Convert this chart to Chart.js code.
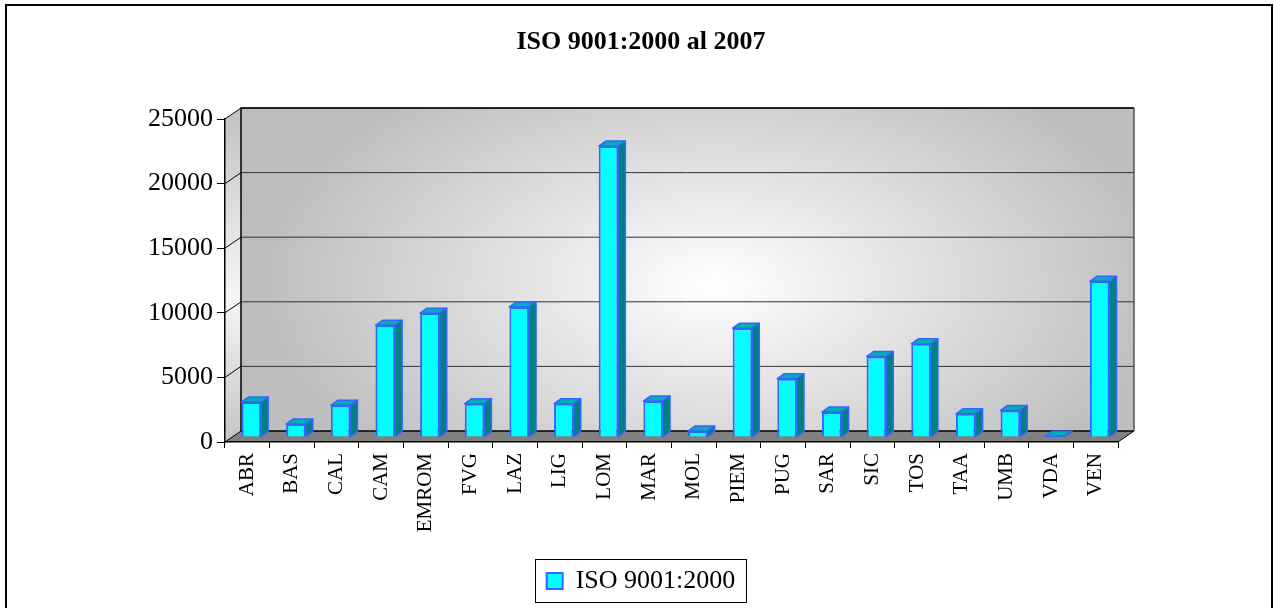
<!DOCTYPE html>
<html>
<head>
<meta charset="utf-8">
<script src="https://cdn.jsdelivr.net/npm/chart.js@4.4.1/dist/chart.umd.min.js"></script>
<style>
  html, body { margin: 0; padding: 0; background: #fff; }
  canvas { display: block; }
</style>
</head>
<body>
<canvas id="isoChart" width="1274" height="608"></canvas>
<script>
const regioni = ['ABR', 'BAS', 'CAL', 'CAM', 'EMROM', 'FVG', 'LAZ', 'LIG', 'LOM', 'MAR',
  'MOL', 'PIEM', 'PUG', 'SAR', 'SIC', 'TOS', 'TAA', 'UMB', 'VDA', 'VEN'];
const certificati = [2700, 1000, 2450, 8650, 9580, 2580, 10070, 2580, 22520, 2780,
  460, 8420, 4510, 1930, 6230, 7210, 1800, 2060, 60, 12050];
const yTicks = [0, 5000, 10000, 15000, 20000, 25000];

// profondita' finta del 3D
const WALL = { dx: 16, dy: -11 };
const BAR_SHIFT = { dx: 4, dy: -5 };
const BAR_DEPTH = { dx: 7, dy: -5 };

const serif = "'Liberation Serif', 'Times New Roman', serif";

function poly(ctx, pts) {
  ctx.beginPath();
  ctx.moveTo(pts[0][0], pts[0][1]);
  for (let i = 1; i < pts.length; i++) ctx.lineTo(pts[i][0], pts[i][1]);
  ctx.closePath();
}

const pareti3d = {
  id: 'pareti3d',
  beforeDraw(chart) {
    const { ctx, chartArea: { left, right, top, bottom }, scales: { y } } = chart;
    const bl = left + WALL.dx, bt = top + WALL.dy, br = right + WALL.dx, bb = bottom + WALL.dy;
    ctx.save();

    // cornice
    ctx.strokeStyle = '#000';
    ctx.lineWidth = 2;
    ctx.strokeRect(6, 5, 1266, 640);

    // parete di fondo
    ctx.save();
    ctx.beginPath();
    ctx.rect(bl, bt, br - bl, bb - bt);
    ctx.clip();
    ctx.translate(715, 285);
    ctx.scale(1.8, 1);
    const g = ctx.createRadialGradient(0, 0, 0, 0, 0, 250);
    g.addColorStop(0, '#ffffff');
    g.addColorStop(1, '#bebebe');
    ctx.fillStyle = g;
    ctx.fillRect(-500, -300, 1000, 600);
    ctx.restore();

    // parete laterale
    const gs = ctx.createLinearGradient(0, top, 0, bottom);
    gs.addColorStop(0, '#c4c4c4');
    gs.addColorStop(0.55, '#f6f6f6');
    gs.addColorStop(1, '#c4c4c4');
    ctx.fillStyle = gs;
    poly(ctx, [[left, top], [bl, bt], [bl, bb], [left, bottom]]);
    ctx.fill();

    // pavimento
    ctx.fillStyle = '#808080';
    poly(ctx, [[left, bottom], [bl, bb], [br, bb], [right, bottom]]);
    ctx.fill();

    // griglia
    yTicks.forEach(v => {
      const yy = y.getPixelForValue(v);
      ctx.strokeStyle = v === 0 ? '#000' : '#333';
      ctx.lineWidth = v === 0 ? 1.5 : 1;
      ctx.beginPath();
      ctx.moveTo(bl, yy + WALL.dy);
      ctx.lineTo(br, yy + WALL.dy);
      ctx.stroke();
      ctx.strokeStyle = '#000';
      ctx.lineWidth = 1;
      ctx.beginPath();
      ctx.moveTo(left, yy);
      ctx.lineTo(bl, yy + WALL.dy);
      ctx.stroke();
    });

    ctx.strokeStyle = '#000';
    ctx.lineWidth = 1.5;
    ctx.beginPath();
    ctx.moveTo(bl, bb);
    ctx.lineTo(bl, bt);
    ctx.lineTo(br, bt);
    ctx.stroke();
    ctx.strokeStyle = '#555';
    ctx.beginPath();
    ctx.moveTo(br, bt);
    ctx.lineTo(br, bb);
    ctx.stroke();
    ctx.strokeStyle = '#000';
    ctx.lineWidth = 1;
    ctx.beginPath();
    ctx.moveTo(right, bottom);
    ctx.lineTo(br, bb);
    ctx.stroke();
    ctx.restore();
  },
  beforeDatasetsDraw(chart) {
    chart.ctx.save();
    chart.ctx.translate(BAR_SHIFT.dx, BAR_SHIFT.dy);
  },
  afterDatasetsDraw(chart) {
    const ctx = chart.ctx;
    const meta = chart.getDatasetMeta(0);
    ctx.lineWidth = 1.5;
    ctx.strokeStyle = '#3366ff';
    ctx.lineJoin = 'round';
    meta.data.forEach(bar => {
      const { x, y, base, width } = bar.getProps(['x', 'y', 'base', 'width'], true);
      const L = x - width / 2, R = x + width / 2;
      const d = BAR_DEPTH;
      // faccia superiore
      ctx.fillStyle = '#00b0b0';
      poly(ctx, [[L, y], [L + d.dx, y + d.dy], [R + d.dx, y + d.dy], [R, y]]);
      ctx.fill();
      ctx.stroke();
      // fianco
      ctx.fillStyle = '#008080';
      poly(ctx, [[R, y], [R + d.dx, y + d.dy], [R + d.dx, base + d.dy], [R, base]]);
      ctx.fill();
      ctx.stroke();
    });
    ctx.restore();
  },
  afterDraw(chart) {
    const { ctx, legend } = chart;
    const hb = legend.legendHitBoxes[0];
    if (!hb) return;
    ctx.save();
    ctx.strokeStyle = '#000';
    ctx.lineWidth = 1;
    ctx.strokeRect(Math.round(hb.left - 12) + 0.5, Math.round(hb.top - 9) + 0.5, Math.round(hb.width + 22), 43);
    ctx.restore();
  }
};

new Chart(document.getElementById('isoChart'), {
  type: 'bar',
  data: {
    labels: regioni,
    datasets: [{
      label: 'ISO 9001:2000',
      data: certificati,
      backgroundColor: '#00ffff',
      borderColor: '#3366ff',
      borderWidth: 2,
      barPercentage: 0.44,
      categoryPercentage: 1,
      clip: false
    }]
  },
  options: {
    responsive: false,
    animation: false,
    devicePixelRatio: 1,
    layout: {
      padding: { left: 8, right: 0, top: 0, bottom: 4 }
    },
    plugins: {
      title: {
        display: true,
        text: 'ISO 9001:2000 al 2007',
        color: '#000',
        font: { family: serif, size: 26, weight: 'bold' },
        padding: { top: 27, bottom: 60.8 }
      },
      legend: {
        position: 'bottom',
        labels: {
          color: '#000',
          font: { family: serif, size: 26 },
          boxWidth: 16,
          boxHeight: 16,
          padding: 10
        }
      },
      tooltip: { enabled: false }
    },
    scales: {
      x: {
        afterFit: (scale) => { scale.height = 116; },
        grid: {
          drawOnChartArea: false,
          tickLength: 6,
          color: '#000'
        },
        border: { color: '#000', width: 1.5 },
        ticks: {
          color: '#000',
          font: { family: serif, size: 21 },
          minRotation: 90,
          maxRotation: 90,
          autoSkip: false,
          padding: 5
        }
      },
      y: {
        min: 0,
        max: 25000,
        afterFit: (scale) => { scale.width = 217; },
        afterBuildTicks: (scale) => { scale.ticks = yTicks.map(v => ({ value: v })); },
        grid: {
          drawOnChartArea: false,
          tickLength: 8,
          color: '#000'
        },
        border: { color: '#000', width: 1.5 },
        ticks: {
          color: '#000',
          font: { family: serif, size: 26 },
          padding: 4,
          callback: (v) => String(v)
        }
      },
      // spazio vuoto a destra, come nell'originale
      margine: {
        position: 'right',
        afterFit: (scale) => { scale.width = 156; },
        grid: { display: false },
        border: { display: false },
        ticks: { display: false }
      }
    }
  },
  plugins: [pareti3d]
});
</script>
</body>
</html>
